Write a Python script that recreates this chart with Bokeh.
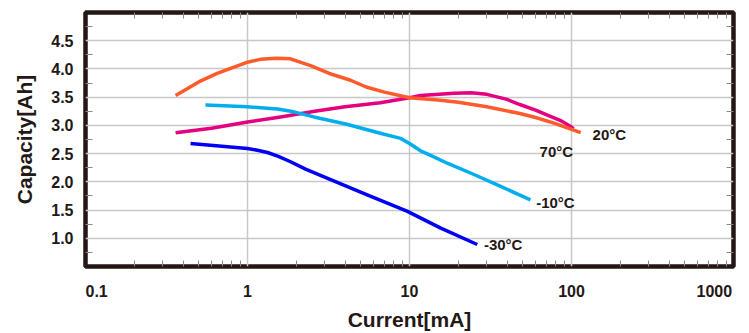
from bokeh.plotting import figure
from bokeh.models import (LogAxis, LinearAxis, FixedTicker, ColumnDataSource,
                          CustomJSTickFormatter)
from bokeh.core.properties import value
from bokeh.embed import file_html
from bokeh.resources import INLINE

# ---- axis ticks ----
x_ticks = [0.1, 1, 10, 100, 1000]
x_tick_labels = ["0.1", "1", "10", "100", "1000"]
x_minor = [m * 10.0 ** k for k in range(-1, 3) for m in range(2, 10)]
y_ticks = [1.0, 1.5, 2.0, 2.5, 3.0, 3.5, 4.0, 4.5]
y_tick_labels = ["1.0", "1.5", "2.0", "2.5", "3.0", "3.5", "4.0", "4.5"]
y_minor = [0.75, 1.25, 1.75, 2.25, 2.75, 3.25, 3.75, 4.25, 4.75]

# ---- series (current mA, capacity Ah) ----
cur_20 = [0.36, 0.5, 0.65, 1.0, 1.2, 1.5, 1.84, 2.45, 3.2, 4.33, 5.4, 7, 10, 15, 20, 30, 48, 60, 78, 114]
cap_20 = [3.53, 3.77, 3.92, 4.12, 4.17, 4.19, 4.18, 4.06, 3.92, 3.80, 3.68, 3.59, 3.49, 3.45, 3.41, 3.33, 3.21, 3.14, 3.04, 2.87]

cur_70 = [0.36, 0.6, 1.0, 1.6, 2.6, 4.0, 6.6, 10, 11.7, 18.8, 24, 30, 40, 48, 60, 71, 85, 99, 103]
cap_70 = [2.87, 2.95, 3.06, 3.15, 3.25, 3.33, 3.40, 3.49, 3.53, 3.57, 3.58, 3.55, 3.46, 3.37, 3.27, 3.18, 3.09, 2.98, 2.94]

cur_m10 = [0.55, 1.0, 1.53, 1.93, 2.57, 4.1, 6.6, 8.8, 10, 11.7, 13.5, 17.1, 25, 36.5, 55.8]
cap_m10 = [3.36, 3.33, 3.29, 3.24, 3.15, 3.02, 2.86, 2.77, 2.68, 2.55, 2.47, 2.33, 2.13, 1.92, 1.68]

cur_m30 = [0.445, 1.0, 1.15, 1.33, 1.55, 1.83, 2.3, 3.26, 5.48, 9.64, 15.6, 26.2]
cap_m30 = [2.68, 2.59, 2.56, 2.52, 2.45, 2.36, 2.22, 2.04, 1.77, 1.48, 1.18, 0.89]

series_labels = ["20°C", "70°C", "-10°C", "-30°C"]
label_x = [135, 63.5, 60.5, 28.8]
label_y = [2.83, 2.53, 1.63, 0.89]

colors = ["#FF5A2A", "#E4007F", "#00AEEF", "#0000F5"]
INK = "#231815"
FONT = "Liberation Sans"
NB = "\u00a0"

p = figure(width=745, height=333, x_axis_type="log",
           x_range=(0.1, 1000), y_range=(0.5, 5.0),
           output_backend="svg", toolbar_location=None,
           min_border_left=85, min_border_right=12,
           min_border_top=12, min_border_bottom=66)

p.outline_line_color = INK
p.outline_line_width = 4.5
p.background_fill_color = "white"
p.border_fill_color = "white"

# bottom axis; end labels padded so they sit inside the frame edges as in the original
x_overrides = {t: s for t, s in zip(x_ticks, x_tick_labels)}
x_overrides[x_ticks[0]] = NB * 5 + x_tick_labels[0]
x_overrides[x_ticks[-1]] = x_tick_labels[-1] + NB * 3

xa = p.xaxis[0]
xa.ticker = FixedTicker(ticks=x_ticks, minor_ticks=x_minor)
xa.major_label_overrides = x_overrides
xa.major_label_text_font = FONT
xa.major_label_text_font_style = "bold"
xa.major_label_text_font_size = "16px"
xa.major_label_text_color = INK
xa.major_label_standoff = 16
xa.major_tick_in = 0
xa.major_tick_out = 0
xa.minor_tick_in = 6
xa.minor_tick_out = 0
xa.minor_tick_line_color = "#8a8a8a"
xa.axis_line_color = None
xa.axis_label = "Current[mA]"
xa.axis_label_text_font = FONT
xa.axis_label_text_font_style = "bold"
xa.axis_label_text_font_size = "21px"
xa.axis_label_text_color = INK
xa.axis_label_standoff = 5

# left axis
ya = p.yaxis[0]
ya.ticker = FixedTicker(ticks=y_ticks, minor_ticks=y_minor)
ya.major_label_overrides = {t: s for t, s in zip(y_ticks, y_tick_labels)}
ya.major_label_text_font = FONT
ya.major_label_text_font_style = "bold"
ya.major_label_text_font_size = "16px"
ya.major_label_text_color = INK
ya.major_label_standoff = 12
ya.major_tick_in = 0
ya.major_tick_out = 0
ya.minor_tick_in = 7
ya.minor_tick_out = 0
ya.minor_tick_line_color = "#8a8a8a"
ya.axis_line_color = None
ya.axis_label = "Capacity[Ah]"
ya.axis_label_text_font = FONT
ya.axis_label_text_font_style = "bold"
ya.axis_label_text_font_size = "21px"
ya.axis_label_text_color = INK
ya.axis_label_standoff = 12

# mirrored ticks on top and right
top = LogAxis(ticker=FixedTicker(ticks=x_ticks, minor_ticks=x_minor),
              formatter=CustomJSTickFormatter(code="return '';"),
              major_label_text_font_size="1px", major_label_standoff=0,
              major_tick_in=0, major_tick_out=0, minor_tick_in=6, minor_tick_out=0,
              minor_tick_line_color="#8a8a8a", axis_line_color=None)
p.add_layout(top, "above")
right = LinearAxis(ticker=FixedTicker(ticks=y_ticks, minor_ticks=y_minor),
                   formatter=CustomJSTickFormatter(code="return '';"),
                   major_label_text_font_size="1px", major_label_standoff=0,
                   major_tick_in=0, major_tick_out=0, minor_tick_in=7, minor_tick_out=0,
                   minor_tick_line_color="#8a8a8a", axis_line_color=None)
p.add_layout(right, "right")

p.xgrid.ticker = FixedTicker(ticks=x_ticks)
p.ygrid.ticker = FixedTicker(ticks=y_ticks)
p.xgrid.grid_line_color = "#c8c8c8"
p.ygrid.grid_line_color = "#c8c8c8"
p.xgrid.grid_line_width = 1.5
p.ygrid.grid_line_width = 1.5

# curves
for cx, cy, col in [(cur_70, cap_70, colors[1]), (cur_20, cap_20, colors[0]),
                    (cur_m10, cap_m10, colors[2]), (cur_m30, cap_m30, colors[3])]:
    p.line(cx, cy, line_color=col, line_width=3.5, line_join="round", line_cap="butt")

# curve labels
src = ColumnDataSource(dict(x=label_x, y=label_y, t=series_labels))
p.text(x="x", y="y", text="t", source=src, text_font=value(FONT),
       text_font_style="bold", text_font_size="15px", text_color=INK,
       text_align="left", text_baseline="middle")

open("out.html", "w").write(file_html(p, INLINE))
